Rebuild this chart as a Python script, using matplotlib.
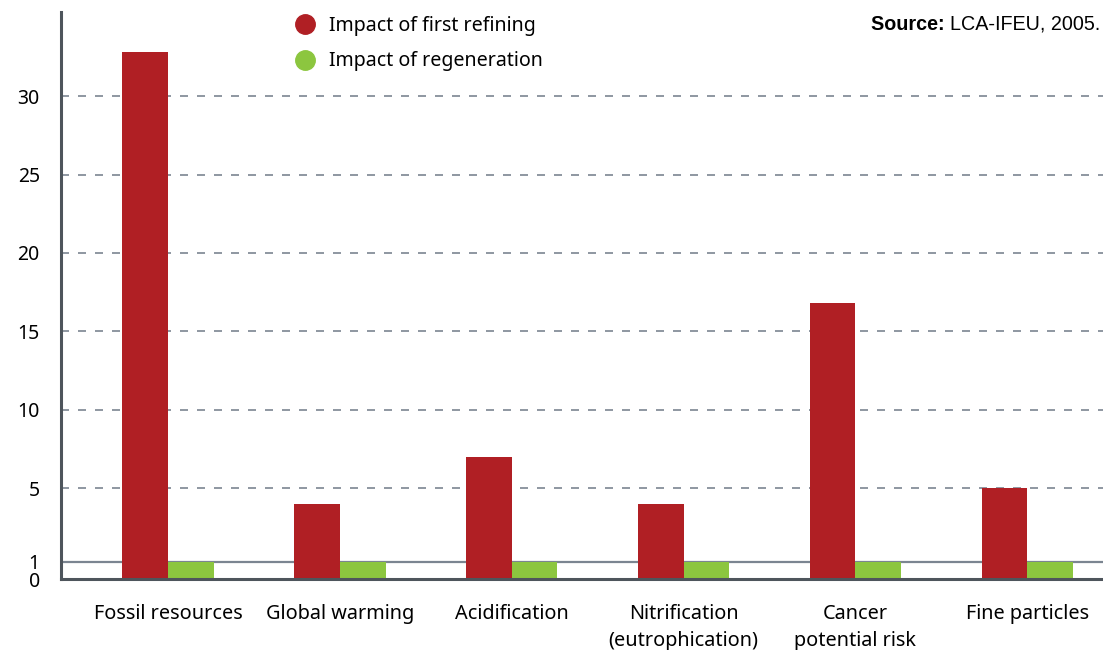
import numpy as np
import matplotlib
matplotlib.use("Agg")
import matplotlib.pyplot as plt
from matplotlib.lines import Line2D

# data
categories = ["Fossil resources", "Global warming", "Acidification",
              "Nitrification\n(eutrophication)", "Cancer\npotential risk", "Fine particles"]
first_refining = [32.8, 4.0, 7.0, 4.0, 16.8, 5.0]
regeneration = [1, 1, 1, 1, 1, 1]
y_ticks = [0, 1, 5, 10, 15, 20, 25, 30]
grid_levels = [5, 10, 15, 20, 25, 30]

RED = "#B01F24"
GREEN = "#8CC63F"
GRID = "#7B8591"
AXIS = "#4E555C"

plt.rcParams["font.family"] = ["Noto Sans", "DejaVu Sans"]
plt.rcParams["font.size"] = 14

# the original axis squeezes the 0..1 part at the bottom
knots_v = [0, 1, 4, 100]
knots_u = [-0.8, 0.33, 4, 100]
def fwd(v):
    return np.interp(v, knots_v, knots_u)
def inv(u):
    return np.interp(u, knots_u, knots_v)

fig = plt.figure(figsize=(11.03, 6.5), dpi=100)
ax = fig.add_axes([0.055, 0.1088, 0.945, 0.8727])
ax.set_yscale("function", functions=(fwd, inv))

x = np.arange(len(categories))
w = 0.266
ax.bar(x - w / 2, first_refining, w, color=RED, zorder=3, linewidth=0)
ax.bar(x + w / 2, regeneration, w, color=GREEN, zorder=3, linewidth=0)

for lv in grid_levels:
    ax.axhline(lv, color=GRID, lw=1.2, dashes=(4.8, 5.4), zorder=1)
ax.axhline(1, color=GRID, lw=1.6, zorder=1)

ax.set_xlim(-0.624, 5.44)
ax.set_ylim(0, 35.36)
ax.set_yticks(y_ticks)
ax.set_yticklabels([str(t) for t in y_ticks], fontsize=14)
ax.set_xticks(x)
ax.set_xticklabels(categories, linespacing=1.45, fontsize=14.3)
ax.tick_params(axis="y", length=0, pad=15)
ax.tick_params(axis="x", length=0, pad=18)

for s in ["top", "right"]:
    ax.spines[s].set_visible(False)
for s in ["left", "bottom"]:
    ax.spines[s].set_color(AXIS)
    ax.spines[s].set_linewidth(2.2)
    ax.spines[s].set_zorder(4)

handles = [Line2D([], [], ls="none", marker="o", ms=14, color=RED),
           Line2D([], [], ls="none", marker="o", ms=14, color=GREEN)]
fig.legend(handles, ["Impact of first refining", "Impact of regeneration"],
           loc="upper left", bbox_to_anchor=(285 / 1103, 1 - 6 / 650),
           frameon=False, borderpad=0, handlelength=1.0, handletextpad=0.75,
           labelspacing=0.8, fontsize=14.1)

src = fig.text(1100 / 1103, 1 - 24 / 650, "LCA-IFEU, 2005.", ha="right", va="center",
               fontsize=14.2, family="Liberation Sans")
ax.annotate("Source: ", xy=(0, 0.5), xycoords=src, ha="right", va="center",
            fontsize=14.2, fontweight="bold", family="Liberation Sans")

fig.savefig("out.png", dpi=100)
